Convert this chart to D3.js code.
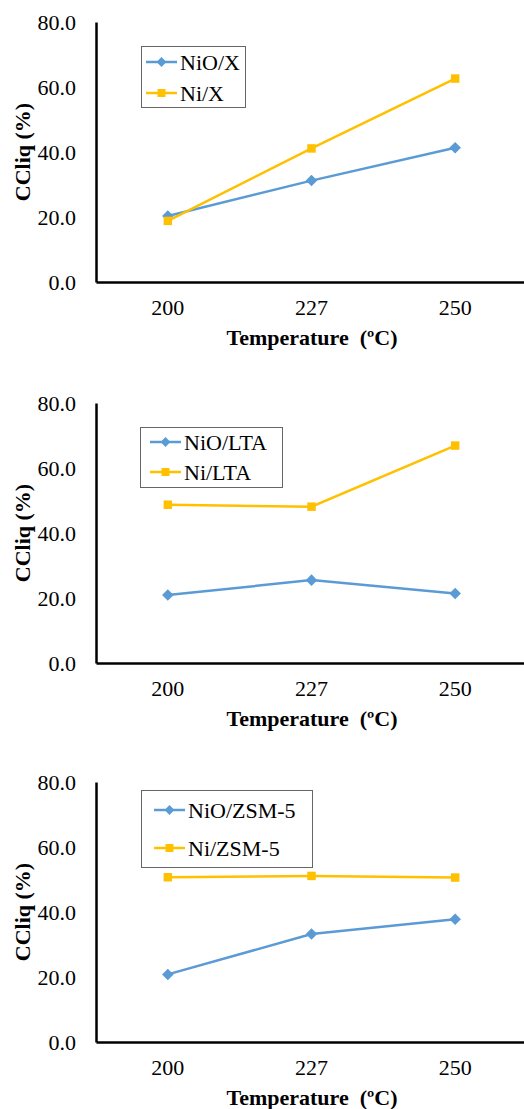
<!DOCTYPE html>
<html>
<head>
<meta charset="utf-8">
<script src="https://cdn.jsdelivr.net/npm/d3@7"></script>
<style>
  body { margin: 0; background: #fff; }
  svg { display: block; font-family: "Liberation Serif", "Times New Roman", serif; }
</style>
</head>
<body>
<svg id="chart" width="524" height="1109"></svg>
<script>
// categories and values
var temps = ["200", "227", "250"];
var yTicks = [0, 20, 40, 60, 80];

var niOX   = [20.3, 31.2, 41.3];
var niX    = [18.8, 41.1, 62.6];
var niOLTA = [20.9, 25.5, 21.4];
var niLTA  = [48.7, 48.1, 66.9];
var niOZSM = [20.8, 33.2, 37.8];
var niZSM  = [50.7, 51.1, 50.6];

var seriesNames = [["NiO/X", "Ni/X"], ["NiO/LTA", "Ni/LTA"], ["NiO/ZSM-5", "Ni/ZSM-5"]];

var blue = "#5B9BD5", gold = "#FFC000";

// layout of the three stacked panels
var panels = [
  { top: 22,  values: [niOX, niX],     names: seriesNames[0], legend: { x: 141, y: 46,  w: 104, h: 61, rows: [62, 93],  lx: 146 } },
  { top: 403, values: [niOLTA, niLTA], names: seriesNames[1], legend: { x: 140, y: 427, w: 142, h: 60, rows: [442, 472], lx: 150 } },
  { top: 782, values: [niOZSM, niZSM], names: seriesNames[2], legend: { x: 141, y: 790, w: 171, h: 77, rows: [810, 848], lx: 154 } }
];
var plotH = 260, left = 96, right = 527;

var svg = d3.select("#chart");
var diamond = d3.symbol().type(d3.symbolDiamond2).size(85);
var square  = d3.symbol().type(d3.symbolSquare).size(72);
var legDiamond = d3.symbol().type(d3.symbolDiamond2).size(62);
var legSquare  = d3.symbol().type(d3.symbolSquare).size(64);

panels.forEach(function(p) {
  var g = svg.append("g");
  var x = d3.scaleBand().domain(temps).range([left, right]);
  var y = d3.scaleLinear().domain([0, 80]).range([p.top + plotH, p.top]);

  // y axis
  var ya = g.append("g").attr("transform", "translate(" + left + ",0)")
    .call(d3.axisLeft(y).tickValues(yTicks).tickSize(0).tickPadding(20).tickFormat(d3.format(".1f")));
  ya.select(".domain").attr("stroke", "#000").attr("stroke-width", 2.5);
  ya.selectAll("text").attr("font-size", 22).attr("font-family", "Liberation Serif").attr("fill", "#000");

  // x axis
  var xa = g.append("g").attr("transform", "translate(0," + (p.top + plotH) + ")")
    .call(d3.axisBottom(x).tickSize(0).tickPadding(17));
  xa.select(".domain").attr("stroke", "#000").attr("stroke-width", 2.5);
  xa.selectAll("text").attr("font-size", 22).attr("font-family", "Liberation Serif").attr("fill", "#000");

  // axis titles
  g.append("text")
    .attr("x", 312).attr("y", p.top + plotH + 63)
    .attr("text-anchor", "middle").attr("font-size", 22).attr("font-weight", "bold")
    .text("Temperature\u00a0 (\u00baC)");
  g.append("text")
    .attr("transform", "translate(22," + (p.top + plotH / 2) + ") rotate(-90)")
    .attr("text-anchor", "middle").attr("dominant-baseline", "central")
    .attr("font-size", 22).attr("font-weight", "bold")
    .text("CCliq (%)");

  // series
  var line = d3.line()
    .x(function(d, i) { return x(temps[i]) + x.bandwidth() / 2; })
    .y(function(d) { return y(d); });
  var colors = [blue, gold], shapes = [diamond, square], legShapes = [legDiamond, legSquare];
  p.values.forEach(function(vals, s) {
    g.append("path").datum(vals)
      .attr("d", line).attr("fill", "none")
      .attr("stroke", colors[s]).attr("stroke-width", 2.5);
    g.selectAll(".m" + s).data(vals).enter().append("path")
      .attr("class", "m" + s)
      .attr("d", shapes[s])
      .attr("transform", function(d, i) {
        return "translate(" + (x(temps[i]) + x.bandwidth() / 2) + "," + y(d) + ")";
      })
      .attr("fill", colors[s]);
  });

  // legend
  var L = p.legend;
  g.append("rect").attr("x", L.x + 0.5).attr("y", L.y + 0.5)
    .attr("width", L.w).attr("height", L.h)
    .attr("fill", "#fff").attr("stroke", "#666").attr("stroke-width", 1);
  L.rows.forEach(function(ry, s) {
    g.append("line").attr("x1", L.lx).attr("x2", L.lx + 31).attr("y1", ry).attr("y2", ry)
      .attr("stroke", colors[s]).attr("stroke-width", 2.5);
    g.append("path").attr("d", legShapes[s])
      .attr("transform", "translate(" + (L.lx + 15.5) + "," + ry + ")")
      .attr("fill", colors[s]);
    g.append("text").attr("x", L.lx + 34).attr("y", ry)
      .attr("dominant-baseline", "central").attr("font-size", 22)
      .text(p.names[s]);
  });
});
</script>
</body>
</html>
